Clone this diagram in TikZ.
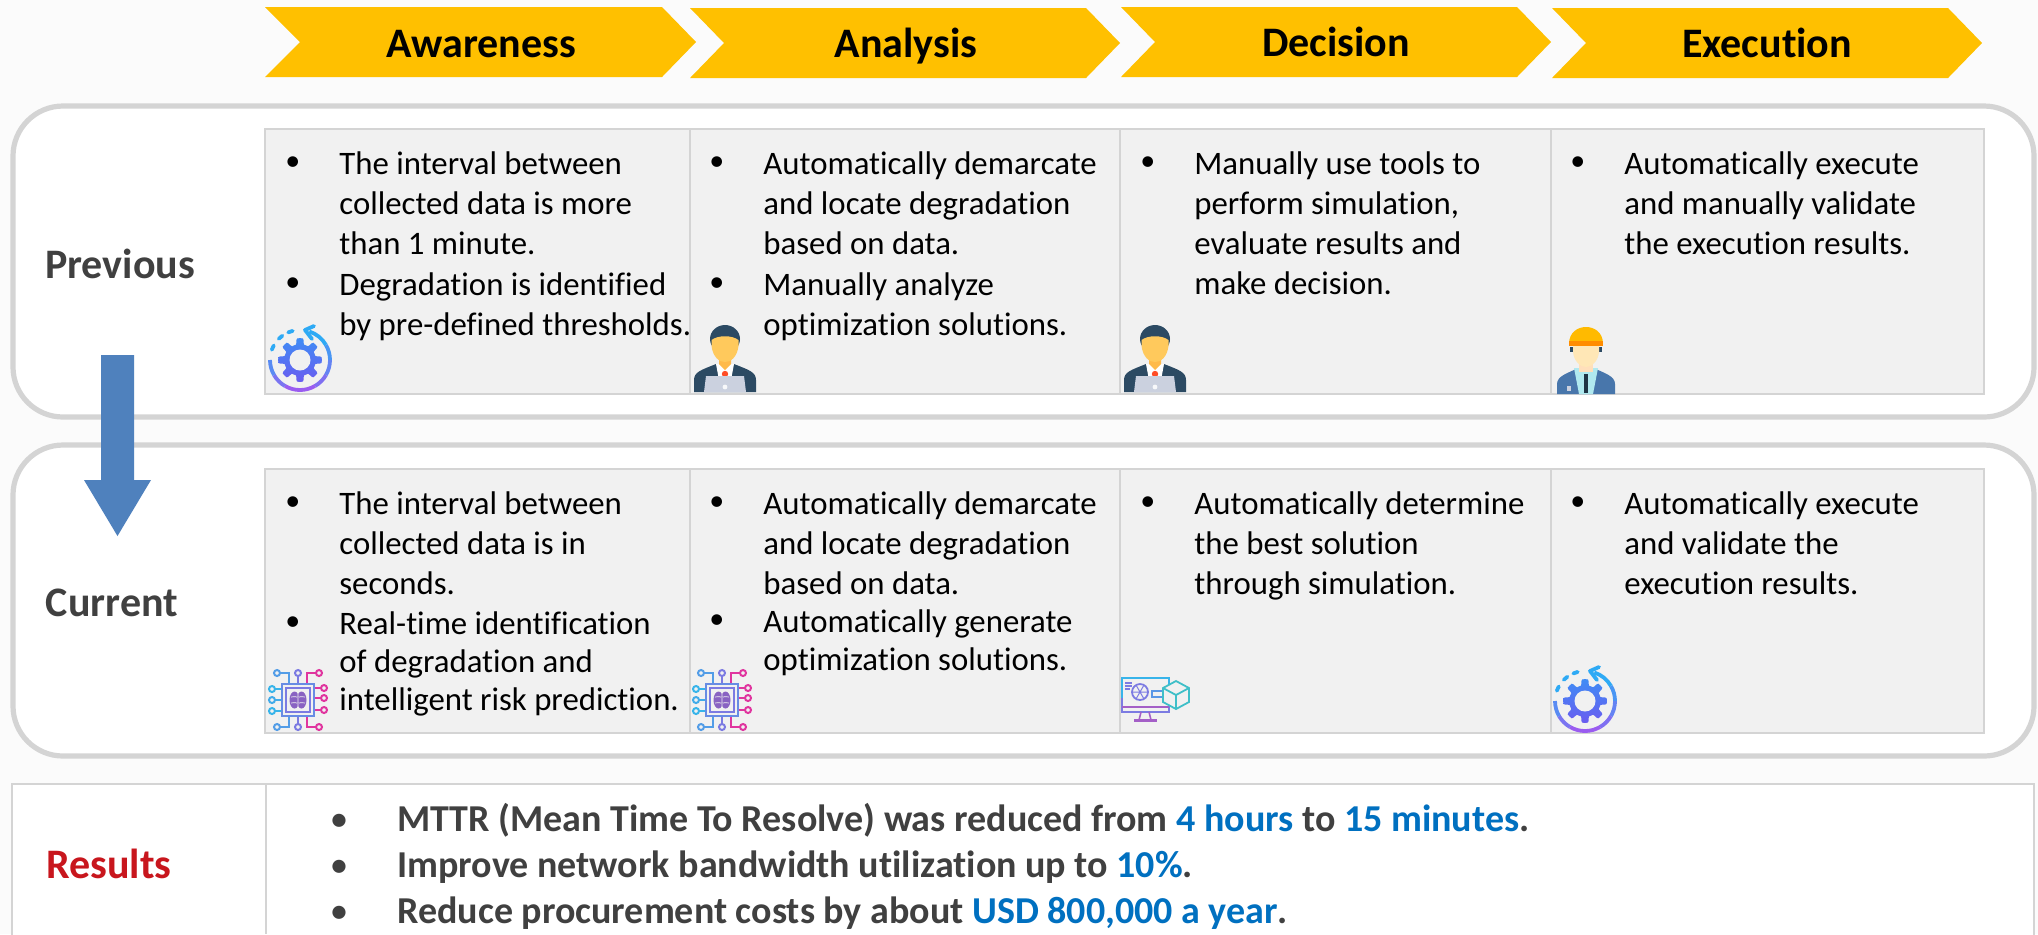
\documentclass[tikz,border=0pt]{standalone}
\usepackage{fontspec}
\setmainfont[Ligatures=NoCommon]{Carlito}
\usetikzlibrary{calc}
\definecolor{pagebg}{HTML}{FBFBFB}
\definecolor{framegray}{HTML}{D4D4D4}
\definecolor{cellfill}{HTML}{F1F1F1}
\definecolor{chev}{HTML}{FFC000}
\definecolor{darktxt}{HTML}{404040}
\definecolor{resred}{HTML}{C8161D}
\definecolor{resblue}{HTML}{0070C0}
\definecolor{arrowblue}{HTML}{4F81BD}
\definecolor{navy}{HTML}{2C4A63}
\definecolor{skin}{HTML}{FFC95C}
\definecolor{lapt}{HTML}{CBD1DF}
\definecolor{cblue}{HTML}{38B4EA}
\definecolor{cmid}{HTML}{7C7BE2}
\definecolor{cpink}{HTML}{E0359F}
\definecolor{gearblue}{HTML}{3F8CF5}
\definecolor{gearviolet}{HTML}{6A5CF0}
\definecolor{ringcyan}{HTML}{2EAAF5}
\definecolor{ringviolet}{HTML}{9A5CF0}
\definecolor{cubeteal}{HTML}{3FBFC8}
\tikzset{
  x=0.5pt,y=0.5pt,
  chevshape/.style={fill=chev,draw=none},
  chevtxt/.style={font=\fontsize{21}{24}\selectfont\bfseries,text=black,inner sep=0pt,anchor=base},
  frame/.style={draw=framegray,line width=2.6pt,fill=white,rounded corners=25pt},
  cell/.style={draw=framegray,line width=1.2pt,fill=cellfill},
  body/.style={font=\fontsize{16.4}{20.1}\selectfont,align=left,anchor=north west,inner sep=0pt,text=black},
  bodytight/.style={font=\fontsize{16.4}{19}\selectfont,align=left,anchor=north west,inner sep=0pt,text=black},
  bull/.style={font=\fontsize{15}{20}\selectfont,anchor=north west,inner sep=0pt,text=black},
  rowlabel/.style={font=\fontsize{21}{24}\selectfont\bfseries,text=darktxt,inner sep=0pt},
  restxt/.style={font=\fontsize{19}{22}\selectfont\bfseries,text=darktxt,anchor=base west,inner sep=0pt},
  resbull/.style={font=\fontsize{15.5}{20}\selectfont\bfseries,text=darktxt,anchor=base west,inner sep=0pt},
}
% gear icon: centre #1
\newcommand{\geargly}[1]{%
\begin{scope}[shift={#1}]
  \shade[top color=gearblue,bottom color=gearviolet]
    plot[samples=145,domain=0:360] ({(18.8+3*max(min(3*cos(8*\x),1),-1))*cos(\x)},{(18.8+3*max(min(3*cos(8*\x),1),-1))*sin(\x)}) -- cycle;
  \fill[cellfill] (0,0) circle (10.5);
  \foreach \a/\b/\c in {72/30/ringcyan,30/0/ringcyan!75!ringviolet,0/-30/ringcyan!50!ringviolet,-30/-60/ringcyan!25!ringviolet,-60/-120/ringviolet,-120/-150/ringviolet!70!ringcyan,-150/-180/ringviolet!40!ringcyan}{
    \draw[\c,line width=1.9pt] (\a:30) arc[start angle=\a,end angle=\b,radius=30];}
  \foreach \a in {160,135,113}{
    \draw[ringcyan,line width=1.9pt,line cap=round] (\a:30) arc[start angle=\a,end angle=\a-9,radius=30];}
  \draw[ringcyan,line width=1.9pt,line cap=round,line join=round] (14,34) -- (5,30) -- (12,21);
\end{scope}}
% person with laptop: bottom centre #1
\newcommand{\persongly}[1]{%
\begin{scope}[shift={#1}]
  \fill[navy] (-31,0) -- (-31,12) .. controls (-31,20) and (-24,22) .. (-9,28) -- (9,28) .. controls (24,22) and (31,20) .. (31,12) -- (31,0) -- cycle;
  \fill[white] (-9,28) -- (9,28) -- (6,12) -- (-6,12) -- cycle;
  \fill[skin!80!orange] (-6,36) -- (6,36) -- (6,28) -- (0,22) -- (-6,28) -- cycle;
  \fill[navy] (0,53) ellipse (15 and 14);
  \fill[skin] (-13.5,52) .. controls (-7,57) and (7,57) .. (13.5,52) -- (13.5,46) .. controls (12,35) and (6,30) .. (0,30) .. controls (-6,30) and (-12,35) .. (-13.5,46) -- cycle;
  \fill[red!65!orange!85!white] (0,18) circle (3.2);
  \fill[lapt] (-19,16) -- (19,16) -- (21,0) -- (-21,0) -- cycle;
  \fill[white!85!lapt] (0,5) circle (2.4);
\end{scope}}
% engineer: bottom centre #1
\newcommand{\engineergly}[1]{%
\begin{scope}[shift={#1}]
  \fill[arrowblue!80!navy] (-29,0) -- (-29,10) .. controls (-29,18) and (-18,21) .. (-10,25) -- (10,25) .. controls (18,21) and (29,18) .. (29,10) -- (29,0) -- cycle;
  \fill[lapt!70!cyan!70!white] (-12,26) -- (12,26) -- (7,0) -- (-7,0) -- cycle;
  \fill[navy!70!black] (-2,20) -- (2,20) -- (2,1) -- (-2,1) -- cycle;
  \fill[lapt] (-19,8) rectangle (-15,3);
  \fill[navy] (-16,47) rectangle (-13,42);
  \fill[navy] (16,47) rectangle (13,42);
  \fill[skin!30!orange!30!white] (-7,30) rectangle (7,22);
  \fill[skin!45!white] (-13,48) -- (13,48) -- (13,42) .. controls (12,32) and (5,27) .. (0,27) .. controls (-5,27) and (-12,32) .. (-13,42) -- cycle;
  \fill[chev!90!orange] (-17,50) .. controls (-17,62) and (-8,67) .. (0,67) .. controls (8,67) and (17,62) .. (17,50) -- cycle;
  \fill[orange!90!yellow] (-17,53) rectangle (17,48);
\end{scope}}
% chip with brain: centre #1
\newcommand{\chipgly}[1]{%
\begin{scope}[shift={#1}]
  \foreach \ya/\cc in {11/cblue,0/cblue!85!cmid,-11/cblue}{
    \draw[\cc,line width=1pt] (-16,\ya) -- (-23,\ya);
    \draw[\cc,line width=1pt] (-26,\ya) circle (3);}
  \foreach \ya/\cc in {12/cpink,2/cpink,-10/cpink}{
    \draw[\cc,line width=1pt] (16,\ya) -- (23,\ya);
    \draw[\cc,line width=1pt] (26,\ya) circle (3);}
  \foreach \xa/\xb/\cc in {-9/-21/cblue!60!cmid,0/0/cmid,9/21/cpink}{
    \draw[\cc,line width=1pt] (\xa,16) -- (\xa,27) -- (\xb,27);
    \draw[\cc,line width=1pt,fill=cellfill] (\xb,27) circle (3);
    \draw[\cc,line width=1pt] (\xa,-16) -- (\xa,-27) -- (\xb,-27);
    \draw[\cc,line width=1pt,fill=cellfill] (\xb,-27) circle (3);}
  \draw[cmid!70!cblue,line width=1pt] (-16,-16) rectangle (16,16);
  \draw[cmid,line width=.7pt] (-12,-12) rectangle (12,12);
  \fill[cmid!80!purple] (-3.5,0) ellipse (5 and 8.5);
  \fill[cmid!80!purple] (3.5,0) ellipse (5 and 8.5);
  \draw[cellfill,line width=.35pt] (0,-8) -- (0,8) (-7,3) .. controls (-4,5) and (-3,2) .. (-1,3) (7,3) .. controls (4,5) and (3,2) .. (1,3) (-7,-3) .. controls (-4,-1) and (-3,-4) .. (-1,-3) (7,-3) .. controls (4,-1) and (3,-4) .. (1,-3);
\end{scope}}
% simulation monitor: top-left #1
\newcommand{\monitorgly}[1]{%
\begin{scope}[shift={#1}]
  \draw[cblue,line width=.9pt] (0,-20) -- (0,0) -- (47,0) -- (47,-8);
  \draw[cmid,line width=.9pt] (47,-24) -- (47,-34) -- (0,-34) -- (0,-20);
  \draw[cmid!60!cpink,line width=.9pt] (0,-29) -- (47,-29);
  \draw[cmid!60!cpink,line width=.8pt] (19,-34) -- (17,-42) (27,-34) -- (29,-42);
  \draw[cmid!60!cpink,line width=1.4pt] (12,-42.5) -- (35,-42.5);
  \draw[cmid,line width=.6pt] (3,-5) -- (10,-5) (3,-8) -- (10,-8) (3,-11) -- (8,-11);
  \draw[cmid,line width=.9pt] (18,-14) circle (8);
  \draw[cmid,line width=.5pt] (10,-14) -- (26,-14) (14,-7) -- (22,-21) (22,-7) -- (14,-21);
  \draw[cmid!50!cblue,line width=.9pt,fill=cellfill] (30,-13) rectangle (42,-19);
  \draw[cubeteal,line width=.9pt,fill=cellfill] (54,-3) -- (67,-10) -- (67,-24) -- (54,-31) -- (41,-24) -- (41,-10) -- cycle;
  \draw[cubeteal,line width=.9pt] (41,-10) -- (54,-17) -- (67,-10) (54,-17) -- (54,-31);
\end{scope}}
\begin{document}
\begin{tikzpicture}
\useasboundingbox (0,0) rectangle (2038,-934);
\fill[pagebg] (0,0) rectangle (2038,-934);
% chevrons
\fill[chevshape] (265,-7) -- (662,-7) -- (696,-42) -- (662,-77) -- (265,-77) -- (300,-42) -- cycle;
\fill[chevshape] (690,-8) -- (1086,-8) -- (1120,-43) -- (1086,-78) -- (690,-78) -- (724,-43) -- cycle;
\fill[chevshape] (1121,-7) -- (1517,-7) -- (1551,-42) -- (1517,-77) -- (1121,-77) -- (1155,-42) -- cycle;
\fill[chevshape] (1552,-8) -- (1948,-8) -- (1982,-43) -- (1948,-78) -- (1552,-78) -- (1586,-43) -- cycle;
\node[chevtxt] (hA) at (481,-57) {Awareness};
\node[chevtxt] (hB) at (906,-57) {Analysis};
\node[chevtxt] (hC) at (1336,-56) {Decision};
\node[chevtxt] (hD) at (1767,-57) {Execution};
% frames
\draw[frame] (13,-106) rectangle (2034,-417);
\draw[frame] (13,-445) rectangle (2034,-756);
% cells
\foreach \xa/\xb in {265/690,690/1120,1120/1551,1551/1984}{
  \draw[cell] (\xa,-129) rectangle (\xb,-394);
  \draw[cell] (\xa,-469) rectangle (\xb,-733);
}
% results table
\draw[draw=framegray,line width=1.2pt,fill=white] (12,-784) rectangle (2034,-940);
\draw[draw=framegray,line width=1.2pt] (266,-784) -- (266,-934);
% arrow
\fill[arrowblue] (101,-355) -- (134,-355) -- (134,-480) -- (151,-480) -- (117.5,-536) -- (84,-480) -- (101,-480) -- cycle;
% row labels
\node[rowlabel] (lP) at (120,-264) {Previous};
\node[rowlabel] (lC) at (112,-603) {Current};
\node[rowlabel,text=resred] (lR) at (109,-864) {Results};
% previous texts
\node[bull] (b1) at (285,-156) {•};
\node[body] (t1) at (339,-151) {The interval between\\collected data is more\\than 1 minute.};
\node[bull] (b2) at (285,-277) {•};
\node[body] (t2) at (339,-272) {Degradation is identified\\by pre-defined thresholds.};
\node[bull] (b3) at (709,-156) {•};
\node[body] (t3) at (763,-151) {Automatically demarcate\\and locate degradation\\based on data.};
\node[bull] (b4) at (709,-277) {•};
\node[body] (t4) at (763,-272) {Manually analyze\\optimization solutions.};
\node[bull] (b5) at (1140,-156) {•};
\node[body] (t5) at (1194,-151) {Manually use tools to\\perform simulation,\\evaluate results and\\make decision.};
\node[bull] (b6) at (1570,-156) {•};
\node[body] (t6) at (1624,-151) {Automatically execute\\and manually validate\\the execution results.};
% current texts
\node[bull] (c1) at (285,-496) {•};
\node[body] (u1) at (339,-491) {The interval between\\collected data is in\\seconds.};
\node[bull] (c2) at (285,-616) {•};
\node[bodytight] (u2) at (339,-611) {Real-time identification\\of degradation and\\intelligent risk prediction.};
\node[bull] (c3) at (709,-496) {•};
\node[body] (u3) at (763,-491) {Automatically demarcate\\and locate degradation\\based on data.};
\node[bull] (c4) at (709,-614) {•};
\node[bodytight] (u4) at (763,-609) {Automatically generate\\optimization solutions.};
\node[bull] (c5) at (1140,-496) {•};
\node[body] (u5) at (1194,-491) {Automatically determine\\the best solution\\through simulation.};
\node[bull] (c6) at (1570,-496) {•};
\node[body] (u6) at (1624,-491) {Automatically execute\\and validate the\\execution results.};
% results text
\node[resbull] (r1b) at (331,-829) {•};
\node[restxt] (r1) at (397,-831) {MTTR (Mean Time To Resolve) was reduced from \textcolor{resblue}{4 hours} to \textcolor{resblue}{15 minutes}.};
\node[resbull] (r2b) at (331,-875) {•};
\node[restxt] (r2) at (397,-877) {Improve network bandwidth utilization up to \textcolor{resblue}{10\%}.};
\node[resbull] (r3b) at (331,-921) {•};
\node[restxt] (r3) at (397,-923) {Reduce procurement costs by about \textcolor{resblue}{USD 800,000 a year}.};
% icons
\geargly{(300,-360)}
\persongly{(725,-392)}
\persongly{(1155,-392)}
\engineergly{(1586,-394)}
\chipgly{(298,-700)}
\chipgly{(722,-700)}
\monitorgly{(1122,-678)}
\geargly{(1585,-701)}
\end{tikzpicture}
\end{document}
